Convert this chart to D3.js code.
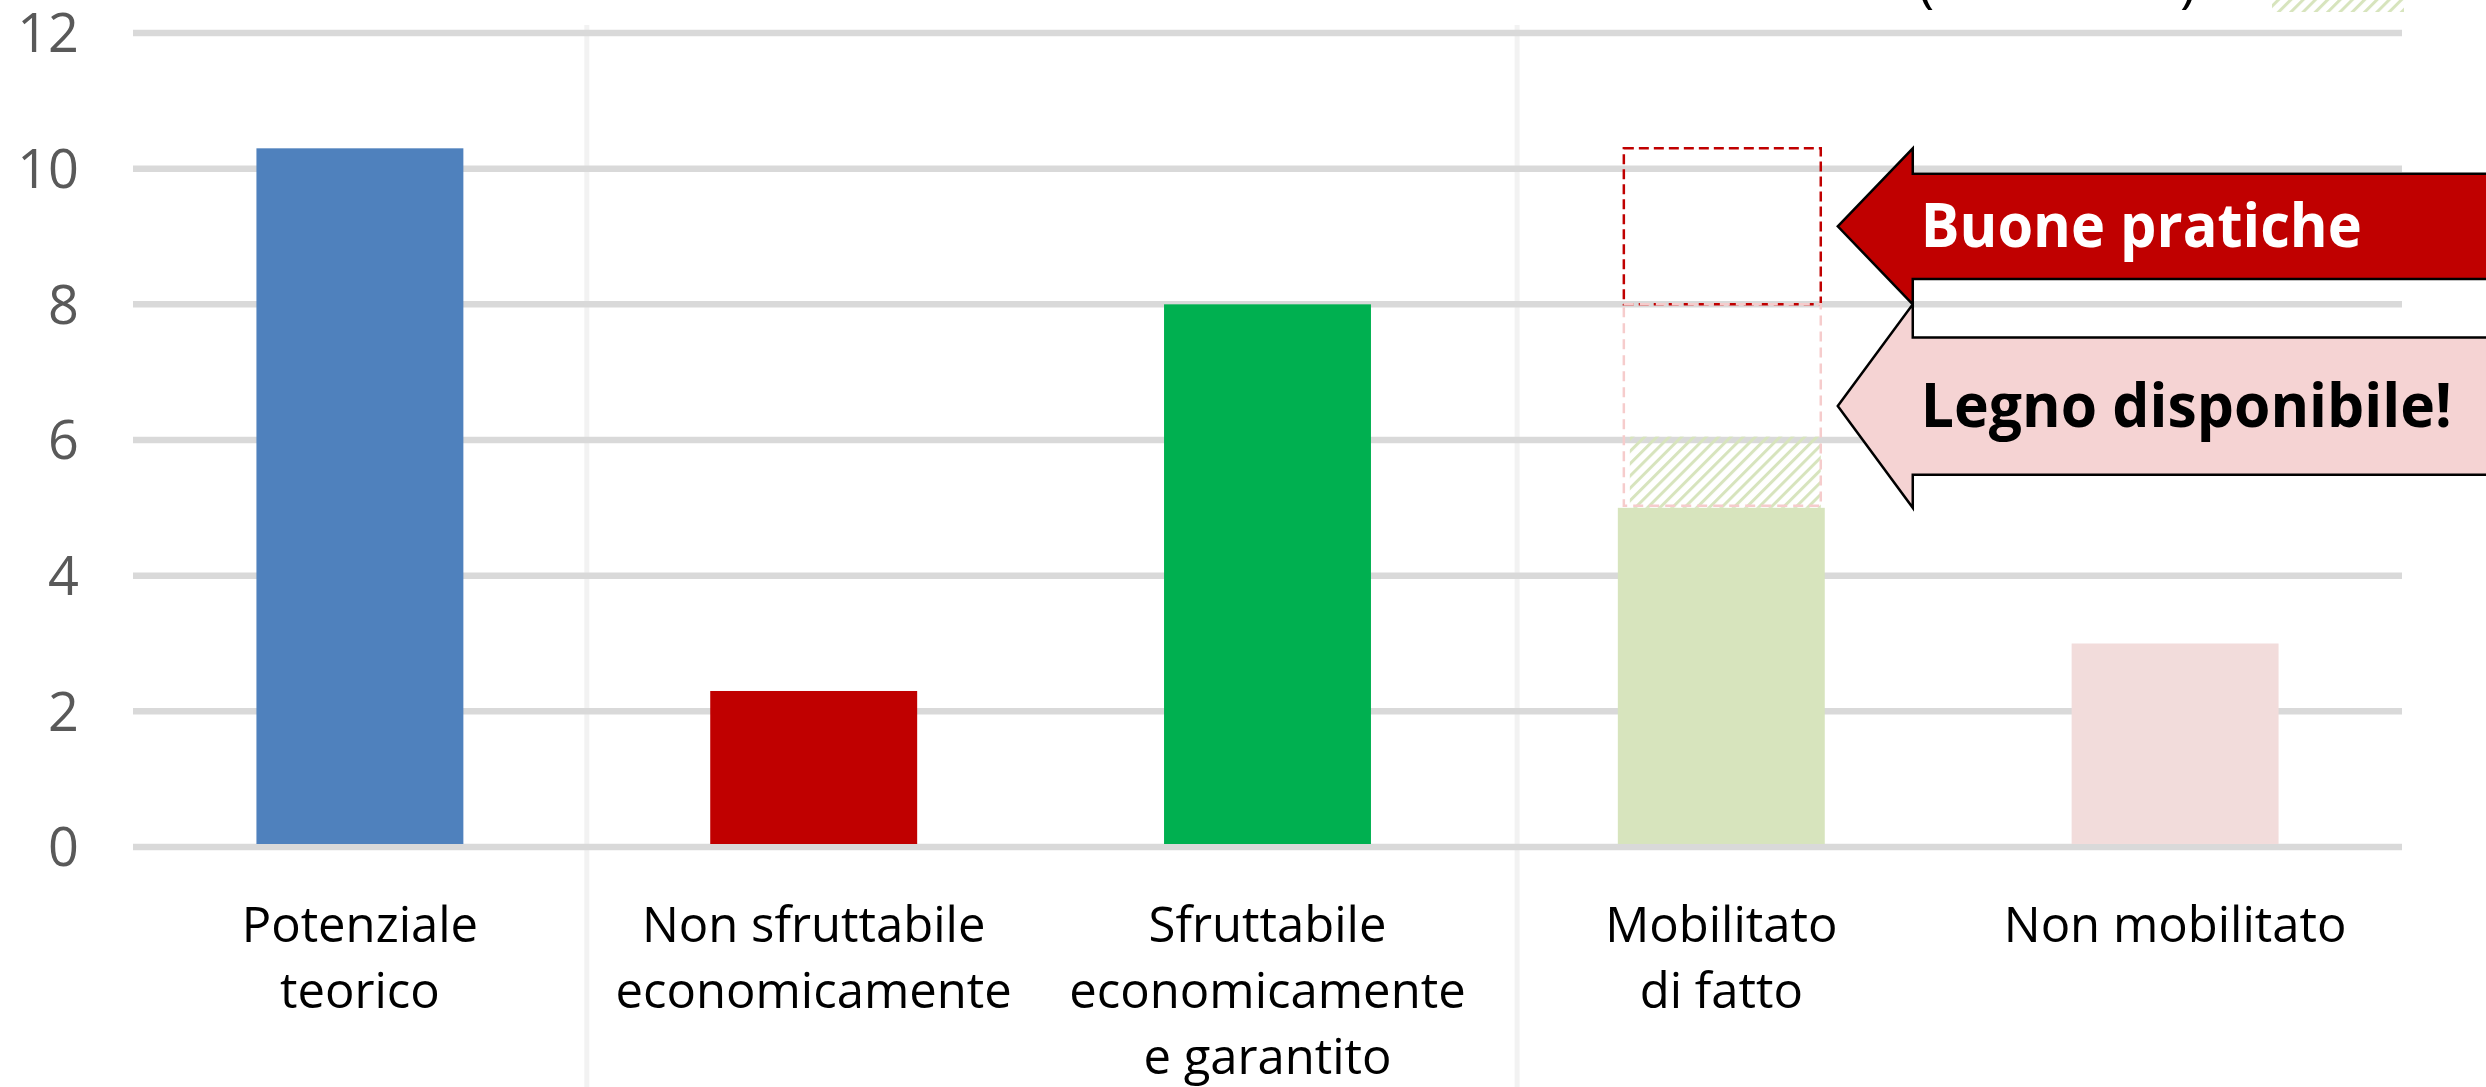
<!DOCTYPE html>
<meta charset="utf-8">
<style>
  body { margin: 0; background: #fff; }
  text { font-family: "Open Sans", "Noto Sans", sans-serif; }
</style>
<body>
  <script src="https://cdn.jsdelivr.net/npm/d3@7"></script>
  <script>
    // data
    var categories = ["Potenziale teorico", "Non sfruttabile economicamente",
      "Sfruttabile economicamente e garantito", "Mobilitato di fatto", "Non mobilitato"];
    var labelLines = [["Potenziale", "teorico"], ["Non sfruttabile", "economicamente"],
      ["Sfruttabile", "economicamente", "e garantito"], ["Mobilitato", "di fatto"], ["Non mobilitato"]];
    var values = [10.3, 2.3, 8.0, 5.0, 3.0];
    var yTicks = [0, 2, 4, 6, 8, 10, 12];

    // extra stack drawn on "Mobilitato di fatto"
    var legnoDisponibile = [5.0, 8.0];
    var buonePratiche = [8.0, 10.3];
    var hatched = [5.0, 6.05];
    var calloutLabels = ["Buone pratiche", "Legno disponibile!"];
    var calloutRanges = [buonePratiche, legnoDisponibile];
    var separatorsAt = [1, 3.05]; // in category steps

    var barColors = ["#4f81bd", "#c00000", "#00b050", "#d7e4bd", "#f2dcdb"];

    var width = 2486, height = 1087;
    var margin = { top: 33, right: 84, bottom: 240, left: 133 };

    var svg = d3.select("body").append("svg")
      .attr("width", width)
      .attr("height", height);

    var x = d3.scaleBand()
      .domain(categories)
      .range([margin.left, width - margin.right])
      .paddingInner(0.544)
      .paddingOuter(0.272);

    var y = d3.scaleLinear()
      .domain([0, 12])
      .range([height - margin.bottom, margin.top]);

    var step = d3.scaleLinear().domain([0, categories.length])
      .range([margin.left, width - margin.right]);

    // hatch pattern
    var defs = svg.append("defs");
    defs.append("pattern")
      .attr("id", "hatch")
      .attr("patternUnits", "userSpaceOnUse")
      .attr("width", 8.7)
      .attr("height", 8.7)
      .attr("patternTransform", "rotate(45)")
      .append("rect")
      .attr("width", 3)
      .attr("height", 8.7)
      .style("fill", "#d7e4bd");

    // vertical separators
    svg.selectAll(".sep")
      .data(separatorsAt)
      .enter().append("line")
      .attr("class", "sep")
      .attr("x1", function(d) { return step(d); })
      .attr("x2", function(d) { return step(d); })
      .attr("y1", 25)
      .attr("y2", height)
      .style("stroke", "#f2f2f2")
      .style("stroke-width", 5);

    // gridlines
    svg.selectAll(".grid")
      .data(yTicks)
      .enter().append("line")
      .attr("class", "grid")
      .attr("x1", margin.left)
      .attr("x2", width - margin.right)
      .attr("y1", function(d) { return y(d); })
      .attr("y2", function(d) { return y(d); })
      .style("stroke", "#d9d9d9")
      .style("stroke-width", 6.5);

    // y labels
    svg.selectAll(".ylab")
      .data(yTicks)
      .enter().append("text")
      .attr("class", "ylab")
      .attr("x", 79)
      .attr("y", function(d) { return y(d); })
      .attr("dy", "0.36em")
      .attr("text-anchor", "end")
      .style("font-size", "54px")
      .style("fill", "#595959")
      .text(function(d) { return d; });

    // bars
    svg.selectAll(".bar")
      .data(values)
      .enter().append("rect")
      .attr("class", "bar")
      .attr("x", function(d, i) { return x(categories[i]); })
      .attr("width", x.bandwidth())
      .attr("y", function(d) { return y(d); })
      .attr("height", function(d) { return y(0) - 3 - y(d); })
      .style("fill", function(d, i) { return barColors[i]; });

    // stacked outlines on "Mobilitato di fatto"
    var mob = categories[3];
    var mx0 = x(mob) + 6, mx1 = x(mob) + x.bandwidth() - 4;

    svg.append("rect")
      .attr("x", mx0 + 6)
      .attr("width", mx1 - mx0 - 6)
      .attr("y", y(hatched[1]))
      .attr("height", y(hatched[0]) - y(hatched[1]))
      .style("fill", "url(#hatch)");

    svg.append("rect")
      .attr("x", mx0)
      .attr("width", mx1 - mx0)
      .attr("y", y(buonePratiche[1]))
      .attr("height", y(buonePratiche[0]) - y(buonePratiche[1]))
      .style("fill", "none")
      .style("stroke", "#c00000")
      .style("stroke-width", 2.5)
      .style("stroke-dasharray", "10,5");

    svg.append("rect")
      .attr("x", mx0)
      .attr("width", mx1 - mx0)
      .attr("y", y(legnoDisponibile[1]))
      .attr("height", y(legnoDisponibile[0]) - y(legnoDisponibile[1]) - 2)
      .style("fill", "none")
      .style("stroke", "#f6cccc")
      .style("stroke-width", 2.5)
      .style("stroke-dasharray", "10,6");

    // callout arrows
    var tipX = x(mob) + x.bandwidth() + 13,
      headX = tipX + 75;
    var arrowFill = ["#c00000", "#f5d3d3"],
      arrowText = ["#ffffff", "#000000"],
      textWidth = [441, 531];

    calloutRanges.forEach(function(r, i) {
      var top = y(r[1]), bot = y(r[0]), mid = (top + bot) / 2;
      var inset = (bot - top) * 0.163;
      var pts = [
        [tipX, mid], [headX, top], [headX, top + inset], [width + 20, top + inset],
        [width + 20, bot - inset], [headX, bot - inset], [headX, bot]
      ];
      svg.append("path")
        .attr("d", d3.line()(pts) + "Z")
        .style("fill", arrowFill[i])
        .style("stroke", "#000")
        .style("stroke-width", 2.5)
        .style("stroke-linejoin", "miter");
      svg.append("text")
        .attr("x", headX + 8)
        .attr("y", mid + 21)
        .attr("textLength", textWidth[i])
        .attr("lengthAdjust", "spacingAndGlyphs")
        .style("font-size", "60px")
        .style("font-weight", "bold")
        .style("fill", arrowText[i])
        .text(calloutLabels[i]);
    });

    // category labels
    var lab = svg.selectAll(".xlab")
      .data(categories)
      .enter().append("text")
      .attr("class", "xlab")
      .attr("text-anchor", "middle")
      .style("font-size", "49px")
      .style("fill", "#000");

    lab.selectAll("tspan")
      .data(function(d, i) {
        return labelLines[i].map(function(t) { return { t: t, c: d }; });
      })
      .enter().append("tspan")
      .attr("x", function(d) { return x(d.c) + x.bandwidth() / 2; })
      .attr("y", function(d, j) { return 942 + j * 66; })
      .text(function(d) { return d.t; });

    // cut-off legend remains at the top
    svg.append("rect")
      .attr("x", 2272)
      .attr("y", -40)
      .attr("width", 132)
      .attr("height", 52)
      .style("fill", "url(#hatch)");

    svg.append("text").attr("x", 1918).attr("y", 1)
      .style("font-size", "55px").text("(");
    svg.append("text").attr("x", 2180).attr("y", 1)
      .style("font-size", "55px").text(")");
  </script>
</body>
